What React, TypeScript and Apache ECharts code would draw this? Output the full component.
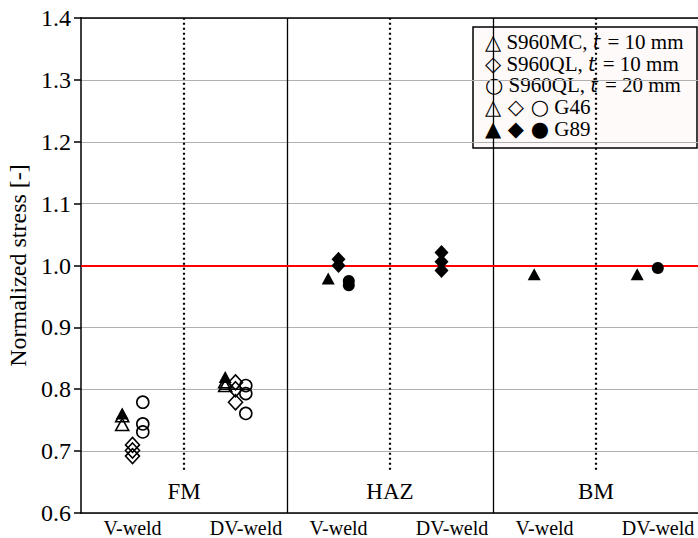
import React, { useEffect, useRef } from "react";
import * as echarts from "echarts";

// ---- data ----
const regionNames = ["FM", "HAZ", "BM"];
const regionCenters = [1, 3, 5];
const regionLabelLevel = 0.635;
const weldLabels = ["V-weld", "DV-weld"];
const solidDividers = [2, 4];
const dottedDividers = [1, 3, 5];
const dottedRange = [0.67, 1.4];
const referenceLevel = 1.0;

// [x position, normalized stress]
const triangleG46: number[][] = [[0.4, 0.757], [0.4, 0.743], [1.4, 0.812], [1.4, 0.806]];
const triangleG89: number[][] = [[0.4, 0.761], [1.4, 0.82], [2.4, 0.979], [4.4, 0.986], [5.4, 0.986]];
const diamondG46: number[][] = [[0.5, 0.71], [0.5, 0.701], [0.5, 0.692], [1.5, 0.811], [1.5, 0.8], [1.5, 0.779]];
const diamondG89: number[][] = [[2.5, 1.01], [2.5, 1.0], [3.5, 1.021], [3.5, 1.006], [3.5, 0.992]];
const circleG46: number[][] = [[0.6, 0.779], [0.6, 0.744], [0.6, 0.731], [1.6, 0.806], [1.6, 0.793], [1.6, 0.761]];
const circleG89: number[][] = [[2.6, 0.975], [2.6, 0.968], [5.6, 0.996]];
const meanSegment: number[][] = [[1.35, 0.8], [1.63, 0.8]];

const legendLines = [
  "{s|\u25B3} S960MC, {i|t} = 10 mm",
  "{s|\u25C7} S960QL, {i|t} = 10 mm",
  "{s|\u25CB} S960QL, {i|t} = 20 mm",
  "{s|\u25B3 \u25C7 \u25CB} G46",
  "{s|\u25B2 \u25C6 \u25CF} G89",
];

const SERIF = "'Liberation Serif', 'Times New Roman', serif";

export default function App() {
  const ref = useRef<HTMLDivElement>(null);
  useEffect(() => {
    if (!ref.current) return;
    const chart = echarts.init(ref.current, undefined, { renderer: "svg" });
    const hollow = { color: "rgba(255,255,255,0)", borderColor: "#000", borderWidth: 1.6, opacity: 1 };
    const filled = { color: "#000", borderColor: "#000", borderWidth: 0, opacity: 1 };
    const scatter = (name: string, data: number[][], symbol: string, size: any, style: any) => ({
      name,
      type: "scatter",
      data,
      symbol,
      symbolSize: size,
      itemStyle: style,
      z: 5,
      silent: true,
    });
    const option: any = {
      animation: false,
      backgroundColor: "#fff",
      textStyle: { fontFamily: SERIF },
      grid: { left: 81, right: 1, top: 18, bottom: 25, containLabel: false, outerBoundsMode: "none" },
      xAxis: [
        {
          type: "value",
          min: 0,
          max: 6,
          interval: 0.5,
          axisLine: { show: true, lineStyle: { color: "#000", width: 1.5 } },
          axisTick: { show: false },
          splitLine: { show: false },
          axisLabel: {
            margin: 5,
            fontSize: 20,
            fontFamily: SERIF,
            color: "#000",
            formatter: (v: number) => {
              const r = Math.round(v * 2) / 2;
              const m = r % 2;
              if (Math.abs(m - 0.5) < 1e-6) return weldLabels[0];
              if (Math.abs(m - 1.5) < 1e-6) return "{dv|" + weldLabels[1] + "}";
              return "";
            },
            rich: { dv: { fontSize: 20, fontFamily: SERIF, color: "#000", padding: [0, 0, 0, 21] } },
          },
        },
        {
          type: "value",
          position: "top",
          min: 0,
          max: 6,
          axisLine: { show: true, onZero: false, lineStyle: { color: "#000", width: 1.5 } },
          axisTick: { show: false },
          axisLabel: { show: false },
          splitLine: { show: false },
        },
      ],
      yAxis: {
        type: "value",
        min: 0.6,
        max: 1.4,
        interval: 0.1,
        name: "Normalized stress [-]",
        nameLocation: "middle",
        nameGap: 46,
        nameTextStyle: { fontSize: 24, fontFamily: SERIF, color: "#000" },
        axisLine: { show: true, lineStyle: { color: "#000", width: 1.5 } },
        axisTick: { show: true, inside: false, length: 7, lineStyle: { color: "#000", width: 1.5 } },
        axisLabel: { margin: 10, fontSize: 24, fontFamily: SERIF, color: "#000", formatter: (v: number) => v.toFixed(1) },
        splitLine: { show: true, lineStyle: { color: "#b0b0b0", width: 1 } },
      },
      series: [
        {
          name: "dividers",
          type: "line",
          data: [],
          silent: true,
          markLine: {
            silent: true,
            symbol: "none",
            label: { show: false },
            animation: false,
            data: [
              ...solidDividers.map((x) => [
                { coord: [x, 0.6], lineStyle: { color: "#000", width: 1.3, type: "solid" } },
                { coord: [x, 1.4] },
              ]),
              ...dottedDividers.map((x) => [
                { coord: [x, dottedRange[0]], lineStyle: { color: "#000", width: 2.2, type: [2, 3] } },
                { coord: [x, dottedRange[1]] },
              ]),
              [
                { coord: [0, referenceLevel], lineStyle: { color: "#ff0000", width: 2, type: "solid" } },
                { coord: [6, referenceLevel] },
              ],
            ],
          },
        },
        {
          name: "mean",
          type: "line",
          data: meanSegment,
          symbol: "none",
          silent: true,
          lineStyle: { color: "#000", width: 1.5 },
          z: 4,
        },
        scatter("S960MC G46", triangleG46, "triangle", [13, 12], hollow),
        scatter("S960MC G89", triangleG89, "triangle", [13, 12], filled),
        scatter("S960QL10 G46", diamondG46, "diamond", [14, 15], hollow),
        scatter("S960QL10 G89", diamondG89, "diamond", [14, 15], filled),
        scatter("S960QL20 G46", circleG46, "circle", 12, hollow),
        scatter("S960QL20 G89", circleG89, "circle", 12, filled),
      ],
      graphic: [
        {
          type: "group",
          id: "legend",
          z: 100,
          children: [
            {
              type: "rect",
              shape: { x: 473, y: 27, width: 224, height: 121 },
              style: { fill: "#fffafa", stroke: "#000", lineWidth: 1.5 },
            },
            ...legendLines.map((t, i) => ({
              type: "text",
              x: 485,
              y: 42 + i * 21.7,
              style: {
                text: t,
                fontSize: 21,
                fontFamily: SERIF,
                fill: "#000",
                verticalAlign: "middle",
                rich: {
                  s: { fontSize: 21, fontFamily: "'DejaVu Sans', sans-serif", fill: "#000" },
                  i: { fontSize: 19, fontFamily: "'DejaVu Sans', sans-serif", fontStyle: "italic", fill: "#000", padding: [0, 2, 0, 0] },
                },
              },
            })),
          ],
        },
      ],
    };
    chart.setOption(option);
    const regionTexts = regionCenters.map((x, i) => {
      const p = chart.convertToPixel({ xAxisIndex: 0, yAxisIndex: 0 }, [x, regionLabelLevel]) as number[];
      return {
        type: "text",
        id: "region" + i,
        x: p[0],
        y: p[1],
        z: 50,
        style: {
          text: regionNames[i],
          fontSize: 23,
          fontFamily: SERIF,
          fill: "#000",
          align: "center",
          verticalAlign: "middle",
        },
      };
    });
    chart.setOption({ graphic: regionTexts });
    return () => chart.dispose();
  }, []);
  return (
    <div style={{ position: "fixed", left: 0, top: 0, width: 698, height: 538, overflow: "hidden", background: "#fff" }}>
      <div ref={ref} style={{ width: 700, height: 538 }} />
    </div>
  );
}
